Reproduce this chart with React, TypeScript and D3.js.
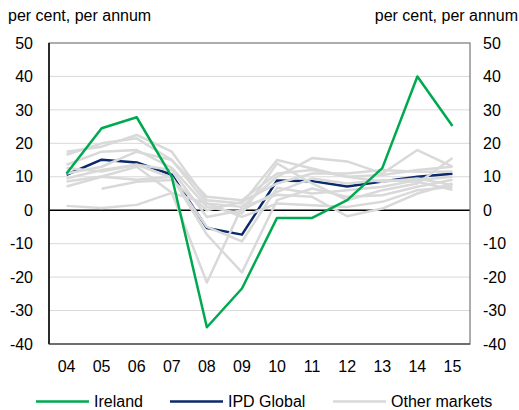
import React from "react";
import * as d3 from "d3";

const years = ["04", "05", "06", "07", "08", "09", "10", "11", "12", "13", "14", "15"];
const yTicks = [-40, -30, -20, -10, 0, 10, 20, 30, 40, 50];

const ireland = [11, 24.5, 27.8, 10, -35, -23.4, -2.3, -2.3, 3, 12.6, 40, 25.2];
const ipdGlobal = [10.6, 15.1, 14.3, 10.6, -5.3, -7.3, 8.9, 8.7, 7.1, 8.6, 10, 10.9];

const otherA = [17.5, 19, 22.5, 17.5, 3, 2, 15, 12.5, 10, 10.5, 12, 13];
const otherB = [16.6, 20, 21.5, 15, 2, 1, 10, 15.6, 14.6, 11, 18, 13];
const otherC = [13.6, 17.5, 18, 12.7, 1, -1, 14, 8, 3, 6, 8, 15.6];
const otherD = [12.6, 11.6, 13.6, 9.7, -5, -9.3, 6.7, 5, 6, 7, 9, 10];
const otherE = [8.6, 10.1, 13, 5.2, -21.6, 1, 4.6, 4, -1.8, 0.5, 5, 8];
const otherF = [7.1, 10, 9.1, 10, -7.3, -18.6, 3, 6.5, 4, 4.5, 7, 9.1];
const otherG = [1.3, 0.7, 1.6, 5.2, 2, -2, 2, 1.5, 1, 2.5, 6, 7];
const otherH = [null, 6.4, 8.5, 9, 0, 2.5, 8, 11, 11, 12, 11.5, 11.6];
const otherI = [11, 13, 17.5, 15, 4, 3, 11, 12, 10, 8.5, 9.5, 7.5];
const otherJ = [9.5, 12, 13.6, 12, -2, 0, 5.5, 9.5, 8, 9, 8.5, 6.1];
const otherMarkets = [otherA, otherB, otherC, otherD, otherE, otherF, otherG, otherH, otherI, otherJ];

const legendItems = ["Ireland", "IPD Global", "Other markets"];

const GREEN = "#00A94F";
const NAVY = "#0A2A6C";
const GRAY = "#D9D9D9";

export default function App() {
  const W = 519, H = 410;
  const left = 49, right = 470, top = 43, bottom = 344;
  const x = d3.scaleBand<string>().domain(years).range([left, right]);
  const cx = (i: number) => (x(years[i]) as number) + x.bandwidth() / 2;
  const y = d3.scaleLinear().domain([-40, 50]).range([bottom, top]);
  const line = d3
    .line<number | null>()
    .defined((d) => d !== null)
    .x((_, i) => cx(i))
    .y((d) => y(d as number));

  const font = "Arial, 'Liberation Sans', sans-serif";
  const legendColors = [GREEN, NAVY, GRAY];
  const legendX = [36, 170, 333];
  const fs = 16;

  return (
    <svg width={W} height={H} style={{ position: "absolute", left: 0, top: 0 }} fontFamily={font}>
      <rect x={0} y={0} width={W} height={H} fill="#fff" />
      <text x={8} y={21} fontSize={fs} fill="#000">per cent, per annum</text>
      <text x={518} y={21} fontSize={fs} fill="#000" textAnchor="end">per cent, per annum</text>
      {yTicks.map((t) => (
        <g key={t}>
          {t !== 0 && t !== 50 && t !== -40 && (
            <line x1={left} x2={right} y1={y(t)} y2={y(t)} stroke="#D9D9D9" strokeWidth={1} />
          )}
          <text x={33} y={y(t) + 5.7} fontSize={fs} textAnchor="end" fill="#000">{t}</text>
          <text x={483} y={y(t) + 5.7} fontSize={fs} textAnchor="start" fill="#000">{t}</text>
        </g>
      ))}
      <line x1={left} x2={right} y1={y(0)} y2={y(0)} stroke="#000" strokeWidth={1.5} />
      <rect x={left} y={top} width={right - left} height={bottom - top} fill="none" stroke="#777" strokeWidth={1.2} />
      <line x1={left} x2={left} y1={top} y2={bottom} stroke="#000" strokeWidth={1.5} />
      <line x1={left} x2={right} y1={bottom} y2={bottom} stroke="#333" strokeWidth={1.2} />
      {years.map((yr, i) => (
        <text key={yr} x={cx(i)} y={371.5} fontSize={fs} textAnchor="middle" fill="#000">{yr}</text>
      ))}
      <path d={line(ipdGlobal) as string} fill="none" stroke={NAVY} strokeWidth={2.5} strokeLinejoin="round" />
      {otherMarkets.map((s, k) => (
        <path key={k} d={line(s) as string} fill="none" stroke={GRAY} strokeWidth={2.5} strokeLinejoin="round" />
      ))}
      <path d={line(ireland) as string} fill="none" stroke={GREEN} strokeWidth={2.5} strokeLinejoin="round" />
      {legendItems.map((name, i) => (
        <g key={name}>
          <line x1={legendX[i]} x2={legendX[i] + 53} y1={401.5} y2={401.5} stroke={legendColors[i]} strokeWidth={2.5} />
          <text x={legendX[i] + 58} y={406.5} fontSize={fs} fill="#000">{name}</text>
        </g>
      ))}
    </svg>
  );
}
